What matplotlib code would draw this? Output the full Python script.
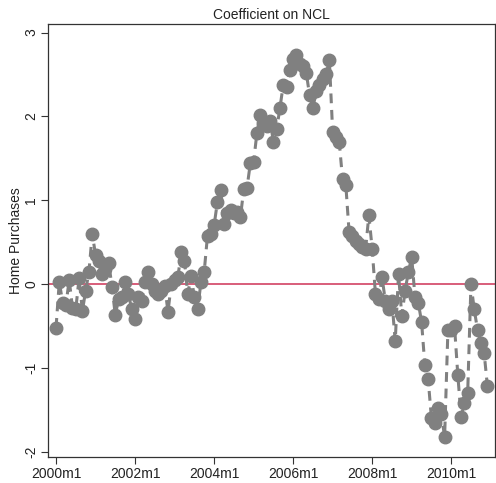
import numpy as np
import matplotlib
matplotlib.use("Agg")
import matplotlib.pyplot as plt

plt.rcParams['font.family'] = ['Liberation Sans', 'DejaVu Sans']

# monthly coefficient estimates, 2000m1 .. 2010m12
coef = [
    -0.52, 0.03, -0.22, -0.25, 0.05, -0.28, -0.30, 0.07, -0.32, -0.08, 0.15, 0.60,
    0.35, 0.28, 0.12, 0.18, 0.25, -0.03, -0.37, -0.18, -0.15, 0.03, -0.12, -0.30,
    -0.42, -0.15, -0.20, 0.02, 0.15, 0.00, -0.08, -0.12, -0.08, -0.02, -0.33, 0.00,
    0.05, 0.08, 0.38, 0.28, -0.12, 0.10, -0.15, -0.30, 0.02, 0.15, 0.58, 0.60,
    0.70, 0.98, 1.12, 0.72, 0.85, 0.88, 0.85, 0.86, 0.80, 1.13, 1.15, 1.44,
    1.46, 1.80, 2.02, 1.92, 1.88, 1.95, 1.70, 1.85, 2.10, 2.38, 2.35, 2.55,
    2.68, 2.73, 2.62, 2.60, 2.52, 2.25, 2.10, 2.30, 2.38, 2.45, 2.50, 2.67,
    1.82, 1.75, 1.70, 1.25, 1.18, 0.62, 0.58, 0.52, 0.48, 0.44, 0.42, 0.82,
    0.42, -0.12, -0.18, 0.08, -0.20, -0.30, -0.20, -0.68, 0.12, -0.38, -0.08, 0.15,
    0.32, -0.15, -0.22, -0.45, -0.97, -1.13, -1.60, -1.65, -1.48, -1.55, -1.82, -0.55,
    -0.55, -0.50, -1.08, -1.58, -1.42, -1.30, 0.00, -0.30, -0.55, -0.70, -0.82, -1.22,
]
months = np.arange(len(coef))

tick_months = [0, 24, 48, 72, 96, 120]
tick_labels = ['2000m1', '2002m1', '2004m1', '2006m1', '2008m1', '2010m1']
y_ticks = [-2, -1, 0, 1, 2, 3]

fig = plt.figure(figsize=(4.96, 4.83), dpi=100)
ax = fig.add_axes([0.097, 0.054, 0.901, 0.896])

ax.axhline(0, color='#d6506f', lw=1.3, zorder=1)
ax.plot(months, coef, color='#808080', lw=2.2, ls=(0, (3.2, 2.2)),
        marker='o', ms=9, mfc='#808080', mec='#808080', zorder=2)

ax.set_xlim(-2.4, 133.3)
ax.set_ylim(-2.06, 3.10)
ax.set_xticks(tick_months)
ax.set_xticklabels(tick_labels, fontsize=10)
ax.set_yticks(y_ticks)
ax.set_yticklabels([str(v) for v in y_ticks], fontsize=10, rotation=90, va='center')
ax.tick_params(direction='out', length=5, width=0.8, color='#333333',
               labelcolor='#222222', pad=2)
for s in ax.spines.values():
    s.set_color('#333333')
    s.set_linewidth(0.9)

ax.set_ylabel('Home Purchases', fontsize=10, labelpad=1, color='#222222')
ax.set_title('Coefficient on NCL', fontsize=10, pad=4, color='#222222')

fig.savefig('out.png', dpi=100, facecolor='white')
